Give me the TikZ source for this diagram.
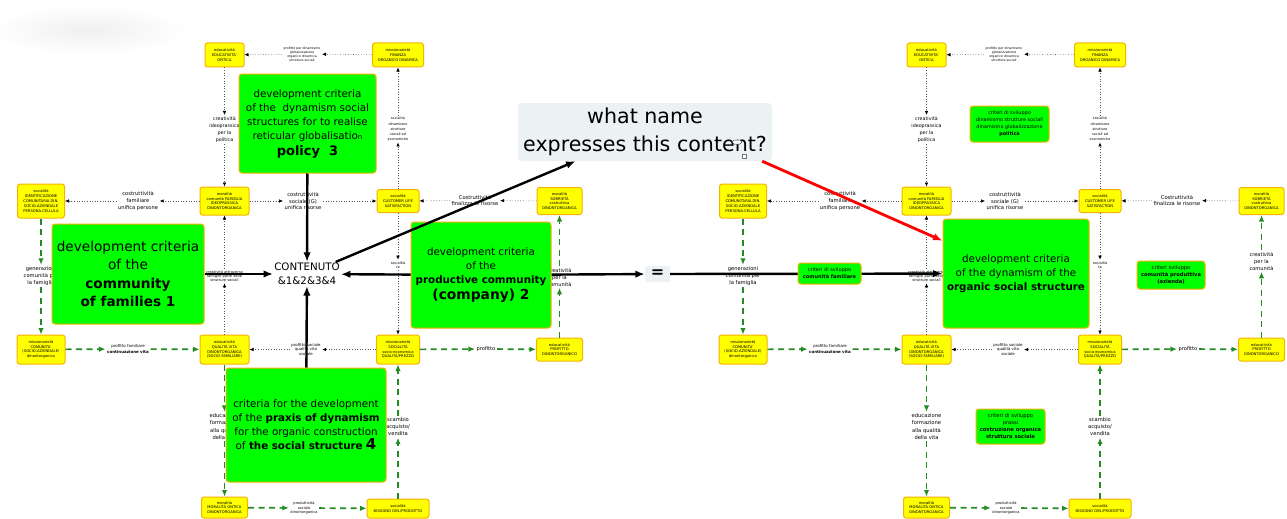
\documentclass[tikz,border=0pt]{standalone}
\usepackage{fontspec}
\setmainfont{DejaVu Sans}
\usetikzlibrary{arrows.meta}

\definecolor{yfill}{RGB}{255,255,0}
\definecolor{ybord}{RGB}{245,178,0}
\definecolor{gfill}{RGB}{0,255,0}
\definecolor{gline}{RGB}{34,139,34}
\definecolor{qfill}{RGB}{236,241,243}
\definecolor{dotc}{RGB}{85,85,85}

\newcommand{\fsz}[2]{\fontsize{#1}{#2}\selectfont}

\tikzset{
  ybox/.style={draw=ybord, fill=yfill, line width=1pt, rounded corners=2.5pt,
    align=center, inner sep=0.5pt, font=\fsz{3.7}{4.8}},
  gbox/.style={draw=ybord, fill=gfill, line width=1pt, rounded corners=3pt,
    align=center, inner sep=1pt},
  lbl/.style={align=center, inner sep=1.5pt},
  dotlink/.style={draw=dotc, line width=0.6pt, dotted,
    -{Latex[length=4pt,width=3.6pt,color=black]}},
  greenlink/.style={draw=gline, line width=1.7pt, dash pattern=on 6pt off 4.5pt,
    -{Latex[length=6.5pt,width=5.5pt]}},
  biglink/.style={draw=black, line width=2.4pt, -{Latex[length=9.5pt,width=7.5pt]}},
  redlink/.style={draw=red, line width=2.8pt, -{Latex[length=9.5pt,width=7.5pt]}},
}

\begin{document}
\begin{tikzpicture}[x=1pt,y=-1pt]
\useasboundingbox (0,0) rectangle (1287,519);
\fill[white] (0,0) rectangle (1287,519);
\shade[inner color=black!6, outer color=white] (88,30) ellipse [x radius=100, y radius=25];

% the two concept networks share the same layout
\foreach \p/\dx/\lcy in {L/0/277,R/702/261}{
\begin{scope}[xshift=\dx]
  % concept boxes
  \node[ybox, minimum width=39, minimum height=24] (\p-A1) at (224.5,55) {educatività\\EDUCATIVITA'\\ONTICA};
  \node[ybox, minimum width=51, minimum height=24] (\p-A2) at (398,55) {missionarietà\\FINANZA\\ORGANICO DINAMICA};
  \node[ybox, minimum width=47, minimum height=34] (\p-B0) at (41,201) {socialità\\IDENTIFICAZIONE\\COMUNITARIA DIN.\\SOCIO-AZIENDALE\\PERSONA-CELLULA};
  \node[ybox, minimum width=49, minimum height=28] (\p-B1) at (224.5,201) {moralità\\comunità FAMIGLIA\\IDEOPRASSICA\\DINONTORGANICA};
  \node[ybox, minimum width=42, minimum height=23] (\p-B2) at (398,201) {socialità\\CUSTOMER LIFE\\SATISFACTION};
  \node[ybox, minimum width=45, minimum height=27] (\p-B3) at (559.5,201) {moralità\\SOBRIETÀ\\costruttiva\\DINONTORGANICA};
  \node[ybox, minimum width=48, minimum height=29] (\p-C0) at (41,349.5) {missionarietà\\COMUNITA'\\(SOCIO-AZIENDALE)\\dinontorganica};
  \node[ybox, minimum width=49, minimum height=29] (\p-C1) at (224.5,349.5) {educatività\\QUALITÀ VITA\\DINONTORGANICA\\(SOCIO-FAMILIARE)};
  \node[ybox, minimum width=43, minimum height=29] (\p-C2) at (398,349.5) {missionarietà\\SOCIALITÀ\\socio-economica\\QUALITÀ/PREZZO};
  \node[ybox, minimum width=46, minimum height=23] (\p-C3) at (559.5,349.5) {educatività\\PROFITTO\\DINONTORGANICO};
  \node[ybox, minimum width=46, minimum height=21] (\p-D1) at (224.5,507.5) {moralità\\MORALITÀ ONTICA\\DINONTORGANICA};
  \node[ybox, minimum width=62, minimum height=19] (\p-D2) at (398,508.5) {socialità\\BISOGNO DIN./PRODOTTO};

  % relation labels
  \node[lbl, font=\fsz{3.2}{4.1}] (\p-lA) at (302,54) {profitto per dinamismo\\globalizzazione\\organico dinamica\\strutture sociali};
  \node[lbl, font=\fsz{4.8}{7}] (\p-lAB1) at (224.5,129.5) {creatività\\ideoprassica\\per la\\politica};
  \node[lbl, font=\fsz{3.4}{5.2}] (\p-lAB2) at (398,129) {socialità\\dinamismo\\strutture\\sociali ed\\economiche};
  \node[lbl, font=\fsz{5.2}{6.8}] (\p-lB01) at (138,201) {costruttività\\familiare\\unifica persone};
  \node[lbl, font=\fsz{5.2}{6.8}] (\p-lB12) at (303,201) {costruttività\\sociale (G)\\unifica risorse};
  \node[lbl, font=\fsz{5.2}{6.8}] (\p-lB32) at (475,200.5) {Costruttività\\finalizza le risorse};
  \node[lbl, font=\fsz{5.2}{7}] (\p-lBC0) at (41,276) {generazioni\\comunità per\\la famiglia};
  \node[lbl, font=\fsz{3.6}{4.2}] (\p-lBC1) at (224.5,276) {creatività attraverso\\famiglie parte delle\\strutture sociali};
  \node[lbl, font=\fsz{3.5}{4.5}] (\p-lBC2) at (398,265) {socialità\\ra};
  \node[lbl, font=\fsz{5.1}{7}] (\p-lBC3) at (559.5,\lcy) {creatività\\per la\\comunità};
  \node[lbl, font=\fsz{4}{5.5}] (\p-lC01) at (128,349) {profitto familiare\\\textbf{continuazione vita}};
  \node[lbl, font=\fsz{3.9}{4.4}] (\p-lC21) at (306,349.5) {profitto sociale\\qualità vita\\sociale};
  \node[lbl, font=\fsz{5.1}{6}] (\p-lC23) at (486,349) {profitto};
  \node[lbl, font=\fsz{5.2}{7.3}] (\p-lCD1) at (224.5,426.5) {educazione\\formazione\\alla qualità\\della vita};
  \node[lbl, font=\fsz{5.2}{7}] (\p-lCD2) at (398,427) {scambio\\acquisto/\\vendita};
  \node[lbl, font=\fsz{3.6}{4.5}] (\p-lD12) at (304,508) {produttività\\sociale\\dinontorganica};

  % dotted relations
  \draw[dotlink] (\p-A2) -- (\p-lA);   \draw[dotlink] (\p-lA) -- (\p-A1);
  \draw[dotlink] (\p-A1) -- (\p-lAB1); \draw[dotlink] (\p-lAB1) -- (\p-B1);
  \draw[dotlink] (\p-B2) -- (\p-lAB2); \draw[dotlink] (\p-lAB2) -- (\p-A2);
  \draw[dotlink] (\p-B1) -- (\p-lB01); \draw[dotlink] (\p-lB01) -- (\p-B0);
  \draw[dotlink] (\p-B1) -- (\p-lB12); \draw[dotlink] (\p-lB12) -- (\p-B2);
  \draw[dotlink] (\p-B3) -- (\p-lB32); \draw[dotlink] (\p-lB32) -- (\p-B2);
  \draw[dotlink] (\p-C1) -- (\p-lBC1); \draw[dotlink] (\p-lBC1) -- (\p-B1);
  \draw[dotlink] (\p-B2) -- (\p-lBC2); \draw[dotlink] (\p-lBC2) -- (\p-C2);
  \draw[dotlink] (\p-C2) -- (\p-lC21); \draw[dotlink] (\p-lC21) -- (\p-C1);

  % green dashed relations
  \draw[greenlink] (\p-B0) -- (\p-lBC0); \draw[greenlink] (\p-lBC0) -- (\p-C0);
  \draw[greenlink] (\p-C3) -- (\p-lBC3); \draw[greenlink] (\p-lBC3) -- (\p-B3);
  \draw[greenlink] (\p-C0) -- (\p-lC01); \draw[greenlink] (\p-lC01) -- (\p-C1);
  \draw[greenlink] (\p-C2) -- (\p-lC23); \draw[greenlink] (\p-lC23) -- (\p-C3);
  \draw[greenlink] (\p-C1) -- (\p-lCD1); \draw[greenlink] (\p-lCD1) -- (\p-D1);
  \draw[greenlink] (\p-D2) -- (\p-lCD2); \draw[greenlink] (\p-lCD2) -- (\p-C2);
  \draw[greenlink] (\p-D1) -- (\p-lD12); \draw[greenlink] (\p-lD12) -- (\p-D2);
\end{scope}
}

% development criteria (left network)
\node[gbox, minimum width=137, minimum height=99, font=\fsz{10.3}{14}] (G3) at (307.5,123.5)
  {development criteria\\of the\ \ dynamism social\\structures for to realise\\reticular globalisatio{\fsz{7}{7}n}\\[2pt]{\fsz{13}{16}\bfseries policy\ \ 3}};
\node[gbox, minimum width=152, minimum height=100, font=\fsz{13.6}{18.5}] (G1) at (128,274)
  {development criteria\\of the\\\textbf{community}\\\textbf{of families 1}};
\node[gbox, minimum width=140, minimum height=106, font=\fsz{10.3}{14}] (G2) at (481,275)
  {development criteria\\of the\\\textbf{productive community}\\[2.5pt]{\fsz{13.8}{17}\bfseries (company) 2}};
\node[gbox, minimum width=160, minimum height=114, font=\fsz{10.3}{14}] (G4) at (306,425)
  {criteria for the development\\of the \textbf{praxis of dynamism}\\for the organic construction\\of \textbf{the social structure} {\fsz{15}{15}\bfseries 4}};

\node[inner sep=1pt, align=center, font=\fsz{10.3}{14}] (cont) at (307,274) {CONTENUTO\\\&1\&2\&3\&4};

% question
\node[fill=qfill, rounded corners=4pt, minimum width=254, minimum height=58, inner sep=0,
  align=center, font=\fsz{20.6}{28}] (Q) at (645,132) {what name\\expresses this content?};
\node[draw=black!75, fill=white, rounded corners=1.5pt, minimum width=9, minimum height=4,
  inner sep=0, line width=0.5pt] (noteicon) at (737,142) {};
\node[draw=black!55, fill=white, minimum size=4, inner sep=0, line width=0.4pt] (noteflag) at (744,156) {};

\node[fill=qfill, rounded corners=2pt, minimum width=25, minimum height=16, inner sep=0,
  font=\fsz{16}{16}\bfseries] (eq) at (657.5,274) {=};

% development criteria (right network)
\node[gbox, minimum width=79, minimum height=36, font=\fsz{4.9}{7}] (Rpol) at (1009.5,124)
  {criteri di sviluppo\\dinamismo strutture sociali\\dinamismo globalizzazione\\\textbf{politica}};
\node[gbox, minimum width=68, minimum height=28, font=\fsz{5.2}{7}] (Rprod) at (1171,275)
  {criteri sviluppo\\\textbf{comunità produttiva}\\\textbf{(azienda)}};
\node[gbox, minimum width=69, minimum height=35, font=\fsz{5.2}{7}] (Rprax) at (1010.5,426.5)
  {criteri di sviluppo\\prassi\\\textbf{costruzione organica}\\\textbf{struttura sociale}};
\node[gbox, minimum width=146, minimum height=109, font=\fsz{10.3}{14}] (G5) at (1016,273.5)
  {development criteria\\of the dynamism of the\\\textbf{organic social structure}};

% main flows
\draw[biglink] (G3) -- (cont);
\draw[biglink] (G1) -- (cont);
\draw[biglink] (G2) -- (cont);
\draw[biglink] (G4) -- (cont);
\draw[biglink] (cont) -- (Q);
\draw[biglink] (G2) -- (eq);
\draw[biglink] (eq) -- (G5);
\node[gbox, minimum width=63, minimum height=21, font=\fsz{5}{7}] (comfam) at (829.5,273.5)
  {criteri di sviluppo\\\textbf{comunità familiare}};
\draw[redlink] (Q.-14.5) -- (G5.156.7);
\end{tikzpicture}
\end{document}
